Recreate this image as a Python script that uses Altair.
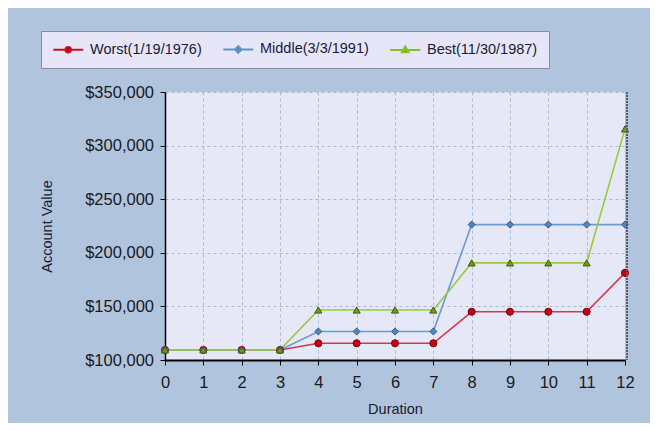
import altair as alt
import pandas as pd

durations = [0, 1, 2, 3, 4, 5, 6, 7, 8, 9, 10, 11, 12]
worst = [109400, 109400, 109400, 109400, 115600, 115600, 115600, 115600, 145000, 145000, 145000, 145000, 181300]
middle = [109400, 109400, 109400, 109400, 126600, 126600, 126600, 126600, 226300, 226300, 226300, 226300, 226300]
best = [109400, 109400, 109400, 109400, 146600, 146600, 146600, 146600, 190600, 190600, 190600, 190600, 315600]

series_names = ["Worst(1/19/1976)", "Middle(3/3/1991)", "Best(11/30/1987)"]
line_colors = ["#D2384A", "#6A9AD0", "#9BC93A"]
legend_line_colors = ["#C8101E", "#5B93CF", "#86C01E"]
point_fills = ["#C80010", "#4F86C0", "#6E9A1E"]
point_strokes = ["#7A0008", "#3A6090", "#3E5A10"]
shapes = ["circle", "diamond", "triangle-up"]
y_ticks = [100000, 150000, 200000, 250000, 300000, 350000]

FONT = "Liberation Sans"

rows = []
for name, vals in zip(series_names, [worst, middle, best]):
    for d, v in zip(durations, vals):
        rows.append({"Duration": d, "Value": v, "Series": name})
df = pd.DataFrame(rows)

x_axis = alt.Axis(
    values=durations, title="Duration", format="d", tickCount=13,
    labelOverlap=False, labelFlush=False,
    grid=True, gridColor="#A9B9D2", gridDash=[3, 3], gridWidth=1,
    domainColor="#000000", domainWidth=2, tickColor="#000000", tickSize=5,
    labelFont=FONT, labelFontSize=16.5, labelColor="#1A1A1A", labelPadding=9,
    titleFont=FONT, titleFontSize=14.5, titleFontWeight="normal", titleColor="#1A1A2E",
    titleBaseline="alphabetic", titleY=53,
)
y_axis = alt.Axis(
    values=y_ticks, title="Account Value", format="$,.0f",
    labelOverlap=False, labelFlush=False,
    grid=True, gridColor="#A9B9D2", gridDash=[3, 3], gridWidth=1,
    domainColor="#000000", domainWidth=1.5, tickColor="#000000", tickSize=5,
    labelFont=FONT, labelFontSize=16.5, labelColor="#1A1A1A", labelPadding=6.5,
    titleFont=FONT, titleFontSize=14.5, titleFontWeight="normal", titleColor="#1A1A2E",
    titleX=-117.5, titleY=134, titleBaseline="middle", titleAngle=270,
)
x_scale = alt.Scale(domain=[0, 12], nice=False)
y_scale = alt.Scale(domain=[100000, 350000], nice=False)

def xe():
    return alt.X("Duration:Q", scale=x_scale, axis=x_axis)

def ye():
    return alt.Y("Value:Q", scale=y_scale, axis=y_axis)

# legend symbol paths: a 30px line with a small marker (unit = 6px)
sym_paths = [
    "M-2.5,0H2.5M-0.45,0A0.45,0.45,0,1,1,0.45,0A0.45,0.45,0,1,1,-0.45,0Z",
    "M-2.5,0H2.5M0,-0.55L0.55,0L0,0.55L-0.55,0Z",
    "M-2.5,0H2.5M0,-0.55L0.55,0.4L-0.55,0.4Z",
]

legend = alt.Legend(
    title=None, orient="none", direction="horizontal", legendX=-124, legendY=-61,
    fillColor="#E6E6F8", strokeColor="#8A8A9A", padding=11,
    labelFont=FONT, labelFontSize=14.5, labelColor="#1A1A3A",
    symbolSize=144, symbolStrokeWidth=2, symbolOffset=9, labelOffset=14.5, columnPadding=17,
)

lines = alt.Chart(df).mark_line(strokeWidth=1.6).encode(
    x=xe(), y=ye(),
    color=alt.Color("Series:N", scale=alt.Scale(domain=series_names, range=line_colors), legend=None),
    order=alt.Order("Duration:Q"),
)

points = alt.Chart(df).mark_point(filled=True, size=50, strokeWidth=1, opacity=1).encode(
    x=xe(), y=ye(),
    fill=alt.Fill("Series:N", scale=alt.Scale(domain=series_names, range=point_fills), legend=None),
    stroke=alt.Stroke("Series:N", scale=alt.Scale(domain=series_names, range=point_strokes), legend=None),
    shape=alt.Shape("Series:N", scale=alt.Scale(domain=series_names, range=shapes), legend=None),
)

legend_layer = alt.Chart(df).transform_filter("false").mark_point(filled=True, opacity=1, strokeWidth=2).encode(
    x=xe(), y=ye(),
    fill=alt.Fill("Series:N", scale=alt.Scale(domain=series_names, range=point_strokes), legend=legend),
    stroke=alt.Stroke("Series:N", scale=alt.Scale(domain=series_names, range=legend_line_colors), legend=legend),
    shape=alt.Shape("Series:N", scale=alt.Scale(domain=series_names, range=sym_paths), legend=legend),
)

edge = alt.Chart(pd.DataFrame({"Duration": [12]})).mark_rule(
    color="#5A5A6A", strokeWidth=2, strokeDash=[2, 1], xOffset=2
).encode(x=xe(), y=alt.datum(350000), y2=alt.datum(100000))

chart = alt.layer(lines, points, edge, legend_layer).properties(
    width=460, height=268,
    autosize=alt.AutoSizeParams(type="none"),
    padding={"left": 157, "top": 84, "right": 25, "bottom": 63},
    background="#B0C4DE",
).configure_view(fill="#E6E8F8", stroke=None).resolve_scale(
    fill="independent", stroke="independent", shape="independent", color="independent"
)

chart.save("out.html", embed_options={"renderer": "svg", "actions": False})
